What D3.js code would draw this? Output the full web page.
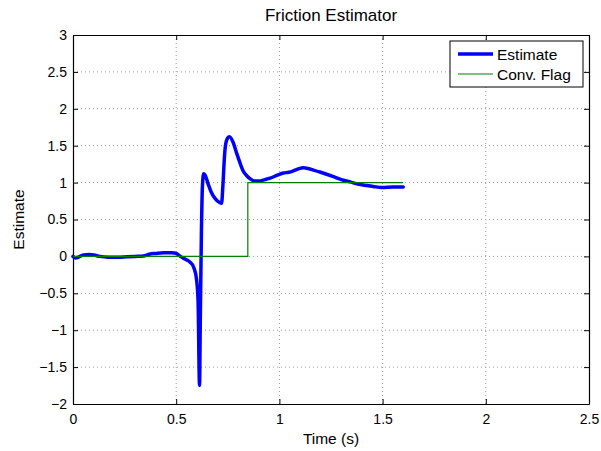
<!DOCTYPE html>
<html>
<head>
  <meta charset="utf-8">
  <title>Friction Estimator</title>
  <style>
    body { margin: 0; background: #fff; }
    text { font-family: "Liberation Sans", Arial, sans-serif; fill: #000; }
    .grid line { stroke: #999; stroke-dasharray: 1,3; }
  </style>
</head>
<body>
  <script src="https://d3js.org/d3.v7.min.js"></script>
  <svg width="601" height="451"></svg>
  <script>
    // estimate curve
    var timeEst = [0, 0.012, 0.027, 0.05, 0.08, 0.1, 0.13, 0.17, 0.22, 0.26, 0.3, 0.34, 0.37, 0.4, 0.44, 0.48, 0.5, 0.52,
      0.545, 0.568, 0.585, 0.598, 0.606, 0.613, 0.617, 0.622, 0.627, 0.633, 0.64, 0.655, 0.67, 0.69, 0.71, 0.72,
      0.726, 0.735, 0.745, 0.758, 0.775, 0.794, 0.81, 0.826, 0.843, 0.859, 0.88, 0.9, 0.93, 0.955, 0.99, 1.02,
      1.045, 1.068, 1.095, 1.117, 1.14, 1.165, 1.2, 1.262, 1.3, 1.343, 1.38, 1.424, 1.46, 1.496, 1.55, 1.6];
    var estimate = [0, -0.02, -0.01, 0.02, 0.025, 0.02, 0.0, -0.01, -0.01, -0.005, 0, 0.005, 0.03, 0.04, 0.05, 0.05, 0.04, 0.0,
      -0.04, -0.08, -0.15, -0.3, -0.6, -1.75, -0.8, 0.3, 0.95, 1.12, 1.1, 0.98, 0.87, 0.78, 0.73, 0.72,
      0.95, 1.4, 1.58, 1.62, 1.55, 1.39, 1.26, 1.15, 1.09, 1.05, 1.02, 1.02, 1.04, 1.06, 1.1, 1.13,
      1.14, 1.16, 1.19, 1.2, 1.19, 1.17, 1.14, 1.08, 1.04, 1.01, 0.98, 0.96, 0.945, 0.935, 0.94, 0.94];

    // convergence flag (step)
    var timeFlag = [0, 0.847, 0.847, 1.6];
    var convFlag = [0, 0, 1, 1];

    var xTicks = [0, 0.5, 1, 1.5, 2, 2.5];
    var yTicks = [-2, -1.5, -1, -0.5, 0, 0.5, 1, 1.5, 2, 2.5, 3];
    var seriesNames = ["Estimate", "Conv. Flag"];
    var seriesColors = ["#0000ff", "#008000"];

    var svg = d3.select("svg");
    var margin = {left: 73, top: 35, right: 12, bottom: 47};
    var width = 601 - margin.left - margin.right;
    var height = 451 - margin.top - margin.bottom;

    var x = d3.scaleLinear().domain([0, 2.5]).range([0, width]);
    var y = d3.scaleLinear().domain([-2, 3]).range([height, 0]);

    var g = svg.append("g").attr("transform", "translate(" + margin.left + "," + margin.top + ")");

    // dotted grid
    var grid = g.append("g").attr("class", "grid");
    grid.selectAll(".gx").data(xTicks.slice(1, -1)).enter().append("line")
        .attr("x1", function(d) { return x(d); }).attr("x2", function(d) { return x(d); })
        .attr("y1", 0).attr("y2", height);
    grid.selectAll(".gy").data(yTicks.slice(1, -1)).enter().append("line")
        .attr("y1", function(d) { return y(d); }).attr("y2", function(d) { return y(d); })
        .attr("x1", 0).attr("x2", width);

    // axes with inward ticks, like matlab
    var fmt = function(d) { return String(d).replace("-", "\u2212"); };
    g.append("g").attr("transform", "translate(0," + height + ")")
        .call(d3.axisBottom(x).tickValues(xTicks).tickSizeInner(-5).tickSizeOuter(0).tickPadding(10).tickFormat(fmt));
    g.append("g")
        .call(d3.axisLeft(y).tickValues(yTicks).tickSizeInner(-5).tickSizeOuter(0).tickPadding(6).tickFormat(fmt));
    g.append("g")
        .call(d3.axisTop(x).tickValues(xTicks).tickSizeInner(-5).tickSizeOuter(0).tickFormat(""));
    g.append("g").attr("transform", "translate(" + width + ",0)")
        .call(d3.axisRight(y).tickValues(yTicks).tickSizeInner(-5).tickSizeOuter(0).tickFormat(""));
    g.selectAll(".domain").attr("stroke", "#000").attr("stroke-width", 1.2);
    g.selectAll(".tick line").attr("stroke", "#000");
    g.selectAll(".tick text").style("font-size", "14px").attr("font-family", null);

    var estLine = d3.line()
        .x(function(d, i) { return x(timeEst[i]); })
        .y(function(d) { return y(d); })
        .curve(d3.curveMonotoneX);
    var flagLine = d3.line()
        .x(function(d, i) { return x(timeFlag[i]); })
        .y(function(d) { return y(d); });

    g.append("path").datum(estimate).attr("d", estLine)
        .attr("fill", "none").attr("stroke", seriesColors[0]).attr("stroke-width", 3.5)
        .attr("stroke-linejoin", "round").attr("stroke-linecap", "round");
    g.append("path").datum(convFlag).attr("d", flagLine)
        .attr("fill", "none").attr("stroke", seriesColors[1]).attr("stroke-width", 1.2);

    // title and labels
    svg.append("text").attr("x", margin.left + width / 2).attr("y", 21)
        .attr("text-anchor", "middle").style("font-size", "17px").text("Friction Estimator");
    svg.append("text").attr("x", margin.left + width / 2).attr("y", 444)
        .attr("text-anchor", "middle").style("font-size", "15.5px").text("Time (s)");
    svg.append("text").attr("transform", "translate(24," + (margin.top + height / 2) + ") rotate(-90)")
        .attr("text-anchor", "middle").style("font-size", "15.5px").text("Estimate");

    // legend
    var leg = svg.append("g").attr("transform", "translate(450,41)");
    leg.append("rect").attr("width", 133).attr("height", 46)
        .attr("fill", "#fff").attr("stroke", "#000").attr("stroke-width", 1);
    seriesNames.forEach(function(name, i) {
      var ly = 13 + i * 20;
      leg.append("line").attr("x1", 8).attr("x2", 43).attr("y1", ly).attr("y2", ly)
          .attr("stroke", seriesColors[i]).attr("stroke-width", i === 0 ? 3.5 : 1.2);
      leg.append("text").attr("x", 47).attr("y", ly + 5.5).style("font-size", "15.5px").text(name);
    });
  </script>
</body>
</html>
